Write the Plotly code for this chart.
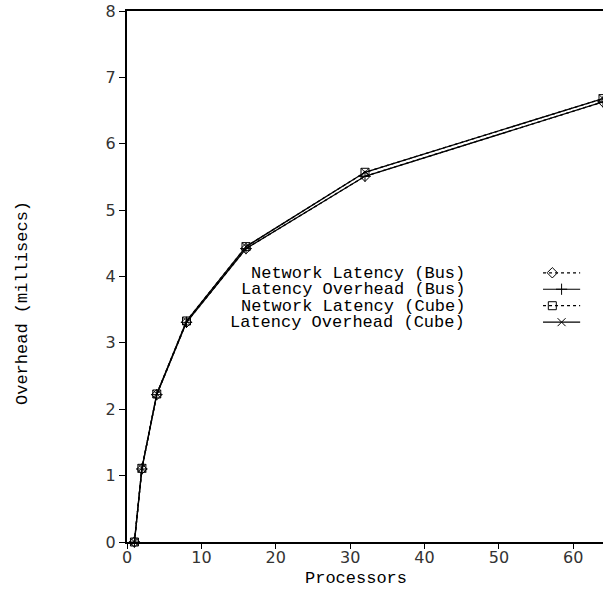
import plotly.graph_objects as go

processors = [1, 2, 4, 8, 16, 32, 64]
net_lat_bus = [0.0, 1.10, 2.22, 3.31, 4.42, 5.51, 6.63]
lat_ovh_bus = [0.0, 1.10, 2.22, 3.31, 4.42, 5.51, 6.63]
net_lat_cube = [0.0, 1.11, 2.23, 3.33, 4.45, 5.57, 6.68]
lat_ovh_cube = [0.0, 1.11, 2.23, 3.33, 4.45, 5.57, 6.68]

series_names = ["Network Latency (Bus)", "Latency Overhead (Bus)",
                "Network Latency (Cube)", "Latency Overhead (Cube)"]
series_vals = [net_lat_bus, lat_ovh_bus, net_lat_cube, lat_ovh_cube]
symbols = ["diamond-open", "cross-thin-open", "square-open", "x-thin-open"]
dashes = ["3px,3px", "solid", "3px,3px", "solid"]

MONO = "Liberation Mono, Courier New, monospace"
SANS = "DejaVu Sans, Liberation Sans, sans-serif"

fig = go.Figure()
for name, vals, sym, dash in zip(series_names, series_vals, symbols, dashes):
    fig.add_trace(go.Scatter(
        x=processors, y=vals, mode="lines+markers", name=name,
        line=dict(color="black", width=1.3, dash=dash),
        marker=dict(symbol=sym, size=8, color="black", line=dict(width=1, color="black")),
        cliponaxis=False, showlegend=False))

# Manual gnuplot-style legend (text left, sample right), overlay axis in 0..1
row_y = [0.507, 0.476, 0.445, 0.414]
for i, name in enumerate(series_names):
    fig.add_annotation(x=0.714, y=row_y[i], xref="x2", yref="y2", text=name,
                       showarrow=False, xanchor="right", yanchor="middle",
                       height=16, valign="middle",
                       font=dict(family=MONO, size=17, color="black"))
    fig.add_trace(go.Scatter(
        x=[0.874, 0.952], y=[row_y[i], row_y[i]], xaxis="x2", yaxis="y2",
        mode="lines", line=dict(color="black", width=1.2, dash=dashes[i]),
        showlegend=False, hoverinfo="skip"))
    fig.add_trace(go.Scatter(
        x=[0.874 + (0.952 - 0.874) * (0.25 if i % 2 == 0 else 0.5)], y=[row_y[i]],
        xaxis="x2", yaxis="y2", mode="markers",
        marker=dict(symbol=symbols[i], size=8, color="black", line=dict(width=1, color="black")),
        showlegend=False, hoverinfo="skip"))

fig.update_layout(
    width=603, height=589,
    margin=dict(l=127, r=0, t=11, b=47),
    paper_bgcolor="white", plot_bgcolor="white",
    showlegend=False,
    xaxis=dict(range=[0, 64], tickvals=[0, 10, 20, 30, 40, 50, 60],
               showgrid=False, zeroline=False, showline=True, linecolor="black",
               linewidth=1.5, mirror=True, ticks="outside", ticklen=5,
               ticklabelstandoff=-5,
               tickcolor="black", tickfont=dict(family=SANS, size=16, color="#333")),
    yaxis=dict(range=[0, 8], tickvals=list(range(0, 9)),
               showgrid=False, zeroline=False, showline=True, linecolor="black",
               linewidth=2, ticks="outside", ticklen=6, tickcolor="black",
               tickfont=dict(family=SANS, size=16, color="#333")),
    xaxis2=dict(range=[0, 1], overlaying="x", visible=False, anchor="y2"),
    yaxis2=dict(range=[0, 1], overlaying="y", visible=False, anchor="x2"),
)

# Axis titles as annotations positioned like the reference
fig.add_annotation(x=(22 - 127) / 476, y=(542 - 303) / 531, xref="paper", yref="paper",
                   text="Overhead (millisecs)", showarrow=False, textangle=-90,
                   xanchor="center", yanchor="middle",
                   font=dict(family=MONO, size=17, color="black"))
fig.add_annotation(x=(356 - 127) / 476, y=(542 - 578) / 531, xref="paper", yref="paper",
                   text="Processors", showarrow=False,
                   xanchor="center", yanchor="middle", height=16,
                   font=dict(family=MONO, size=17, color="black"))

fig.write_html("out.html")
